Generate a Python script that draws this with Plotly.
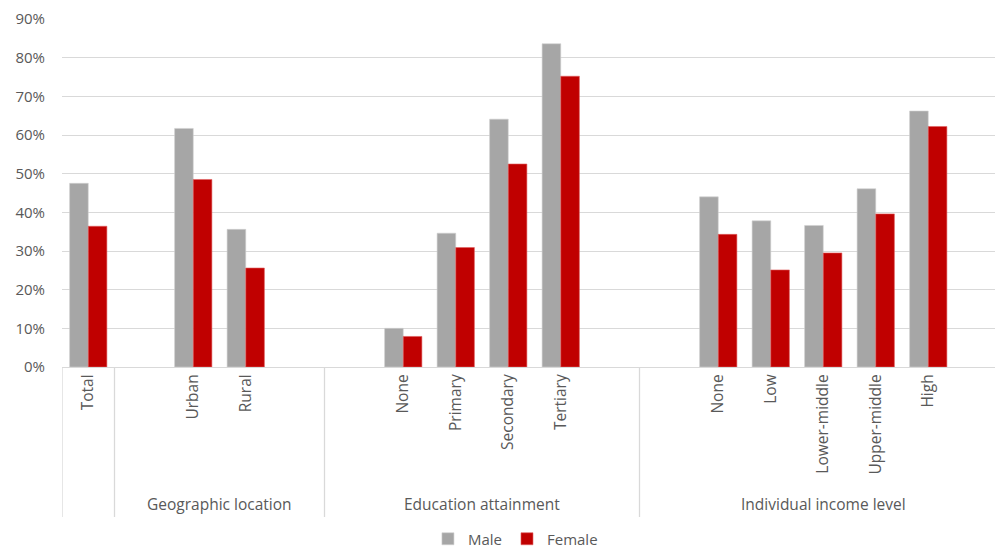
import plotly.graph_objects as go

# ---- data ----
groups = ["", "Geographic location", "Education attainment", "Individual income level"]
group_items = [
    ["Total"],
    ["Urban", "Rural"],
    ["None", "Primary", "Secondary", "Tertiary"],
    ["None", "Low", "Lower-middle", "Upper-middle", "High"],
]
male = [0.475, 0.617, 0.356, 0.100, 0.346, 0.641, 0.836, 0.440, 0.378, 0.366, 0.461, 0.662]
female = [0.364, 0.485, 0.256, 0.079, 0.309, 0.525, 0.752, 0.343, 0.251, 0.295, 0.396, 0.622]
y_ticks = [0, 0.1, 0.2, 0.3, 0.4, 0.5, 0.6, 0.7, 0.8, 0.9]

# ---- slot layout (Excel-style blank categories between groups) ----
xpos, labels, bounds, centers = [], [], [], []
slot = 0
for gi, items in enumerate(group_items):
    start = slot
    if gi > 0:
        slot += 1  # leading blank
    for it in items:
        xpos.append(slot)
        labels.append(it)
        slot += 1
    if gi > 0:
        slot += 1  # trailing blank
    bounds.append((start - 0.5, slot - 0.5))
    centers.append((start + slot - 1) / 2)

TXT = "#595959"
FONT = "Open Sans"

fig = go.Figure()
fig.add_bar(x=xpos, y=male, name="Male", marker=dict(color="#a6a6a6", line=dict(color="#d0d0d0", width=0.6)))
fig.add_bar(x=xpos, y=female, name="Female", marker=dict(color="#c00000", line=dict(color="#e06060", width=0.6)))

shapes = []
sep_bottom = -0.431
for i, (a, b) in enumerate(bounds):
    shapes.append(dict(type="line", xref="x", yref="paper", x0=a, x1=a, y0=0, y1=sep_bottom,
                       line=dict(color="#d9d9d9", width=1.3)))
annotations = []
for g, c in zip(groups, centers):
    if g:
        annotations.append(dict(text=g, xref="x", yref="paper", x=c, y=-0.394, showarrow=False,
                                xanchor="center", yanchor="middle",
                                font=dict(family=FONT, size=15.5, color=TXT)))

fig.update_layout(
    width=995, height=551,
    margin=dict(l=62, r=0, t=19, b=184, autoexpand=False),
    plot_bgcolor="white", paper_bgcolor="white",
    barmode="group", bargap=0.29, bargroupgap=0,
    font=dict(family=FONT, size=15, color=TXT),
    showlegend=True,
    legend=dict(orientation="h", x=0.486, y=1 - 539 / 551, xref="paper", yref="container",
                xanchor="center", yanchor="middle", bgcolor="rgba(0,0,0,0)",
                font=dict(family=FONT, size=15, color=TXT), itemwidth=30, tracegroupgap=0),
    shapes=shapes, annotations=annotations,
    xaxis=dict(range=[-0.5, (995 - 62) / 52.5 - 0.5], tickmode="array", tickvals=xpos, ticktext=labels,
               tickangle=-90, showgrid=False, showline=True, linecolor="#d9d9d9", linewidth=1.3,
               ticks="", zeroline=False, automargin=False, tickfont=dict(family=FONT, size=15.5, color=TXT)),
    yaxis=dict(range=[0, 0.9], tickvals=y_ticks, tickformat=".0%", showgrid=True, gridcolor="#d9d9d9",
               gridwidth=1.3, zeroline=False, ticks="", showline=False, ticklabelstandoff=16,
               automargin=False, tickfont=dict(family=FONT, size=15, color=TXT)),
)

fig.write_html("out.html")
